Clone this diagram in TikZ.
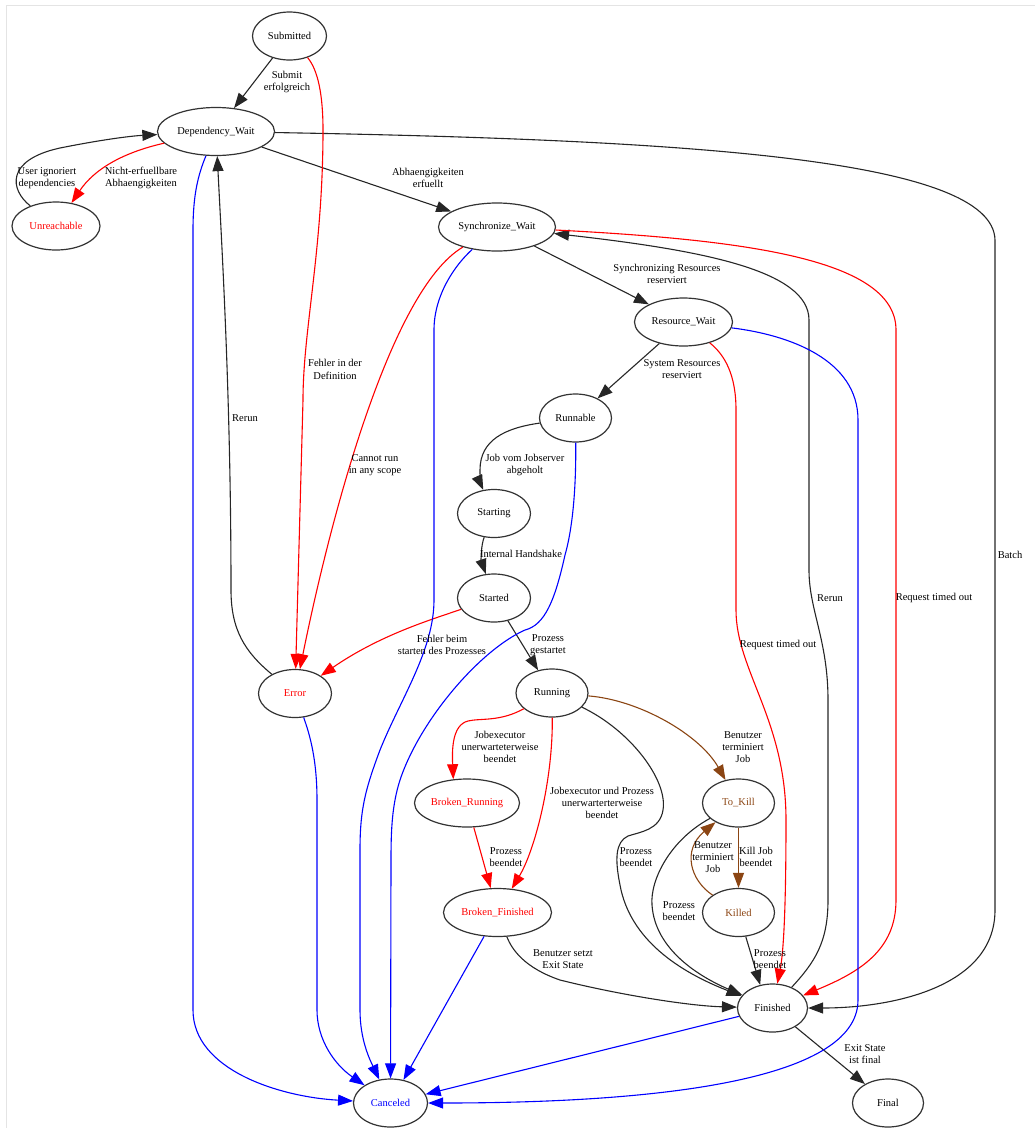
\documentclass[tikz,border=0pt]{standalone}
\usepackage{fontspec}
\setmainfont{Liberation Serif}
\usetikzlibrary{arrows.meta,shapes.geometric}
\definecolor{killbrown}{RGB}{139,69,19}
\definecolor{framegray}{RGB}{228,228,228}

\begin{document}
\begin{tikzpicture}[x=1pt, y=-1pt, >={Triangle[length=15pt,width=11pt]},
    state/.style={ellipse, draw=black!80, line width=1.2pt, minimum height=48pt,
        inner sep=0pt, font=\fontsize{10.5}{12}\selectfont},
    lbl/.style={align=center, inner sep=0pt, font=\fontsize{10.5}{12.3}\selectfont},
    okline/.style={->, draw=black!85, line width=1.1pt},
    errline/.style={->, draw=red, line width=1.1pt},
    cancline/.style={->, draw=blue, line width=1.1pt},
    killline/.style={->, draw=killbrown, line width=1.1pt}]
    \useasboundingbox (0,0) rectangle (1035,1128);
    % Frame
    \draw[framegray, line width=1pt] (6,1128) -- (6,5) -- (1035,5);

    % States
    \node[state, minimum width=74pt] (sub) at (289.5,36) {Submitted};
    \node[state, minimum width=117pt] (dw) at (216,131.5) {Dependency\_Wait};
    \node[state, minimum width=88pt, text=red] (unr) at (56,226) {Unreachable};
    \node[state, minimum width=117pt] (sw) at (497,227) {Synchronize\_Wait};
    \node[state, minimum width=98pt] (rw) at (683.5,322) {Resource\_Wait};
    \node[state, minimum width=72pt] (rb) at (575.5,418) {Runnable};
    \node[state, minimum width=73pt] (stg) at (494,513.5) {Starting};
    \node[state, minimum width=73pt] (std) at (494,598) {Started};
    \node[state, minimum width=73pt, text=red] (err) at (295,693.5) {Error};
    \node[state, minimum width=72pt] (run) at (552,693) {Running};
    \node[state, minimum width=105pt, text=red] (brr) at (467,803) {Broken\_Running};
    \node[state, minimum width=108pt, text=red] (bf) at (497.5,912.5) {Broken\_Finished};
    \node[state, minimum width=72pt, text=killbrown] (tk) at (738.5,803) {To\_Kill};
    \node[state, minimum width=72pt, text=killbrown] (kd) at (738.5,912.5) {Killed};
    \node[state, minimum width=70pt] (fin) at (772.5,1008) {Finished};
    \node[state, minimum width=74pt, text=blue] (can) at (390.5,1103) {Canceled};
    \node[state, minimum width=71pt] (fnl) at (888,1103) {Final};

    % Normal flow
    \draw[okline] (sub) -- (dw);
    \draw[okline] (unr) .. controls (10,190) and (5,160) .. (60,148)
        .. controls (100,140) and (130,136) .. (dw);
    \draw[okline] (dw) -- (sw);
    \draw[okline] (dw) .. controls (700,140) and (993,160) .. (995,240)
        -- (995,910) .. controls (995,988) and (890,1008) .. (fin);
    \draw[okline] (err) .. controls (245,652) and (231,630) .. (231,590)
        .. controls (231,400) and (222,250) .. (dw);
    \draw[okline] (sw) -- (rw);
    \draw[okline] (rw) -- (rb);
    \draw[okline] (fin) .. controls (815,962) and (828,942) .. (828,900)
        -- (828,700) .. controls (828,640) and (809,610) .. (809,570)
        -- (809,320) .. controls (809,270) and (700,250) .. (sw);
    \draw[okline] (rb) .. controls (505,428) and (480,440) .. (480,470)
        .. controls (480,480) and (481,485) .. (stg);
    \draw[okline] (stg) .. controls (481,545) and (481,560) .. (std);
    \draw[okline] (std) -- (run);
    \draw[okline] (run) .. controls (630,730) and (668,780) .. (663,810)
        .. controls (660,830) and (640,832) .. (628,836)
        .. controls (615,842) and (615,860) .. (620,885)
        .. controls (630,940) and (680,972) .. (fin);
    \draw[okline] (tk) .. controls (670,840) and (650,880) .. (652,905)
        .. controls (655,950) and (700,977) .. (fin);
    \draw[okline] (kd) -- (fin.118);
    \draw[okline] (bf) .. controls (512,950) and (525,968) .. (560,980)
        .. controls (620,995) and (690,1006) .. (fin);
    \draw[okline] (fin) -- (fnl);

    % Errors
    \draw[errline] (sub) .. controls (318,70) and (323,95) .. (323,130)
        .. controls (323,250) and (303,330) .. (303,400) -- (err);
    \draw[errline] (dw) .. controls (125,152) and (95,168) .. (unr);
    \draw[errline] (sw) .. controls (390,290) and (330,520) .. (err);
    \draw[errline] (rw) .. controls (725,355) and (736,375) .. (736,410)
        -- (736,610) .. controls (736,670) and (786,720) .. (786,820)
        .. controls (786,900) and (784,950) .. (fin);
    \draw[errline] (sw) .. controls (750,240) and (896,260) .. (896,330)
        -- (896,900) .. controls (896,950) and (860,972) .. (fin);
    \draw[errline] (std) .. controls (430,620) and (380,635) .. (err);
    \draw[errline] (run) .. controls (500,722) and (480,718) .. (468,721)
        .. controls (452,725) and (452,750) .. (brr.120);
    \draw[errline] (run) .. controls (553,780) and (535,850) .. (bf);
    \draw[errline] (brr) -- (bf);

    % Kill
    \draw[killline] (run) .. controls (640,700) and (700,735) .. (tk);
    \draw[killline] (tk) -- (kd);
    \draw[killline] (kd) .. controls (690,880) and (682,850) .. (tk);

    % Cancel
    \draw[cancline] (dw) .. controls (198,175) and (193,195) .. (193,230)
        -- (193,1010) .. controls (193,1070) and (280,1097) .. (can);
    \draw[cancline] (sw) .. controls (455,265) and (434,295) .. (434,330)
        -- (434,600) .. controls (434,650) and (400,700) .. (380,750)
        .. controls (365,790) and (360,810) .. (360,850)
        -- (360,1010) .. controls (360,1040) and (370,1060) .. (can);
    \draw[cancline] (rb) .. controls (576,470) and (575,520) .. (565,555)
        .. controls (555,600) and (545,625) .. (525,630)
        .. controls (480,650) and (420,720) .. (400,780)
        .. controls (392,805) and (391,830) .. (391,860) -- (can);
    \draw[cancline] (rw) .. controls (790,335) and (858,360) .. (858,420)
        -- (858,1000) .. controls (858,1082) and (650,1103) .. (can);
    \draw[cancline] (err) .. controls (310,735) and (317,760) .. (317,800)
        -- (317,1010) .. controls (317,1040) and (335,1065) .. (can);
    \draw[cancline] (bf) -- (can);
    \draw[cancline] (fin) -- (can);

    % Labels
    \node[lbl] (l-sub) at (287,82) {Submit\\erfolgreich};
    \node[lbl] (l-unr) at (47,178) {User ignoriert\\dependencies};
    \node[lbl] (l-nerf) at (141,178) {Nicht-erfuellbare\\Abhaengigkeiten};
    \node[lbl] (l-erf) at (428,178) {Abhaengigkeiten\\erfuellt};
    \node[lbl] (l-sync) at (667,274) {Synchronizing Resources\\reserviert};
    \node[lbl] (l-sys) at (682,369) {System Resources\\reserviert};
    \node[lbl] (l-def) at (335,369.5) {Fehler in der\\Definition};
    \node[lbl] (l-rerun1) at (245,418) {Rerun};
    \node[lbl] (l-scope) at (375,465) {Cannot run\\in any scope};
    \node[lbl] (l-job) at (525,465) {Job vom Jobserver\\abgeholt};
    \node[lbl] (l-hand) at (521,554) {Internal Handshake};
    \node[lbl] (l-batch) at (1010,555) {Batch};
    \node[lbl] (l-rerun2) at (830,598) {Rerun};
    \node[lbl] (l-rto1) at (934,598) {Request timed out};
    \node[lbl] (l-rto2) at (778,645) {Request timed out};
    \node[lbl] (l-fstart) at (442,645) {Fehler beim\\starten des Prozesses};
    \node[lbl] (l-gest) at (548,645) {Prozess\\gestartet};
    \node[lbl] (l-jex) at (500,747) {Jobexecutor\\unerwarteterweise\\beendet};
    \node[lbl] (l-term1) at (743,747) {Benutzer\\terminiert\\Job};
    \node[lbl] (l-jexp) at (602,803) {Jobexecutor und Prozess\\unerwarterterweise\\beendet};
    \node[lbl] (l-pb1) at (506,857) {Prozess\\beendet};
    \node[lbl] (l-pb2) at (636,857) {Prozess\\beendet};
    \node[lbl] (l-term2) at (713,857) {Benutzer\\terminiert\\Job};
    \node[lbl] (l-kill) at (756,857) {Kill Job\\beendet};
    \node[lbl] (l-pb3) at (679,911) {Prozess\\beendet};
    \node[lbl] (l-exit) at (563,959) {Benutzer setzt\\Exit State};
    \node[lbl] (l-pb4) at (770,959) {Prozess\\beendet};
    \node[lbl] (l-final) at (865,1054) {Exit State\\ist final};
\end{tikzpicture}
\end{document}
